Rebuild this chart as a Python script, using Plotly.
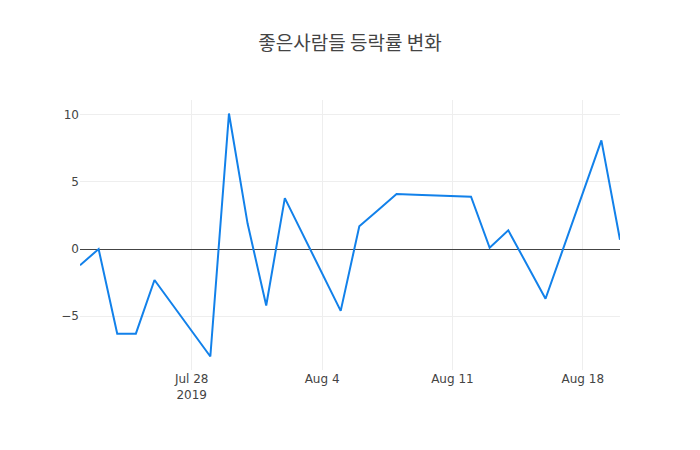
import pandas as pd
import plotly.graph_objects as go

# daily change rate (%) of 좋은사람들
dates = ['2019-07-22', '2019-07-23', '2019-07-24', '2019-07-25', '2019-07-26',
         '2019-07-29', '2019-07-30', '2019-07-31', '2019-08-01', '2019-08-02',
         '2019-08-05', '2019-08-06', '2019-08-07', '2019-08-08', '2019-08-09',
         '2019-08-12', '2019-08-13', '2019-08-14', '2019-08-16',
         '2019-08-19', '2019-08-20']
rates = [-1.2, 0.0, -6.3, -6.3, -2.3,
         -8.0, 10.1, 1.9, -4.2, 3.8,
         -4.6, 1.7, 2.9, 4.1, 4.05,
         3.9, 0.1, 1.4, -3.7,
         8.1, 0.7]

df = pd.DataFrame({'date': pd.to_datetime(dates), 'rate': rates})

fig = go.Figure()
fig.add_trace(go.Scatter(x=df['date'], y=df['rate'], mode='lines',
                         line=dict(color='#1281ea', width=2)))

# page has an 8px body margin, so size the figure to sit in the 700x450 window
fig.update_layout(
    template='plotly_white',
    width=684, height=434,
    title=dict(text='좋은사람들 등락률 변화', x=0.5, xanchor='center',
               y=0.919, yanchor='middle',
               font=dict(size=19, color='#444', family='Noto Sans CJK KR')),
    font=dict(family='DejaVu Sans', size=12, color='#444'),
    margin=dict(l=72, r=72, t=92, b=72),
    showlegend=False,
)
fig.update_xaxes(showgrid=True, gridcolor='#eee')
fig.update_yaxes(showgrid=True, gridcolor='#eee', zeroline=True,
                 zerolinecolor='#444', zerolinewidth=1, tickvals=[-5, 0, 5, 10])

fig.write_html('out.html')
